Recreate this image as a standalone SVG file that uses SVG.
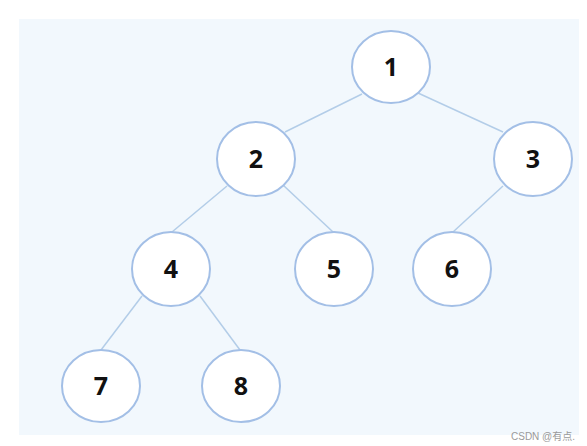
<svg xmlns="http://www.w3.org/2000/svg" width="587" height="446" viewBox="0 0 587 446">
<style>
.node ellipse{fill:#ffffff;stroke:#a3bfe6;stroke-width:2}
.node text{font-family:"Open Sans","Liberation Sans",sans-serif;font-weight:bold;font-size:25px;fill:#111;text-anchor:middle}
.edges line{stroke:#b3cde8;stroke-width:1.5}
.wm{font-family:"Liberation Sans","Noto Sans CJK SC",sans-serif;font-size:10px;fill:#9a9a9a}
</style>
<rect x="0" y="0" width="587" height="446" fill="#ffffff"/>
<rect x="19" y="19" width="560" height="416" fill="#f2f8fd"/>
<g id="edges" class="edges">
<line x1="362" y1="94" x2="285" y2="132"/>
<line x1="418" y1="93" x2="503" y2="132"/>
<line x1="227" y1="186" x2="172" y2="232"/>
<line x1="283" y1="185" x2="333" y2="232"/>
<line x1="503" y1="186" x2="453" y2="232"/>
<line x1="142" y1="296" x2="101" y2="350"/>
<line x1="200" y1="296" x2="240" y2="350"/>
</g>
<g id="n1" class="node"><ellipse cx="391" cy="67" rx="39" ry="36"/><text x="391" y="76">1</text></g>
<g id="n2" class="node"><ellipse cx="256" cy="159" rx="39" ry="37"/><text x="256" y="168">2</text></g>
<g id="n3" class="node"><ellipse cx="533" cy="159" rx="39" ry="37"/><text x="533" y="168">3</text></g>
<g id="n4" class="node"><ellipse cx="171" cy="269" rx="39" ry="37"/><text x="171" y="278">4</text></g>
<g id="n5" class="node"><ellipse cx="334" cy="269" rx="39" ry="37"/><text x="334" y="278">5</text></g>
<g id="n6" class="node"><ellipse cx="452" cy="269" rx="39" ry="37"/><text x="452" y="278">6</text></g>
<g id="n7" class="node"><ellipse cx="101" cy="386" rx="39" ry="36"/><text x="101" y="395">7</text></g>
<g id="n8" class="node"><ellipse cx="241" cy="386" rx="39" ry="36"/><text x="241" y="395">8</text></g>
<text class="wm" x="511" y="440">CSDN @有点.</text>
</svg>
